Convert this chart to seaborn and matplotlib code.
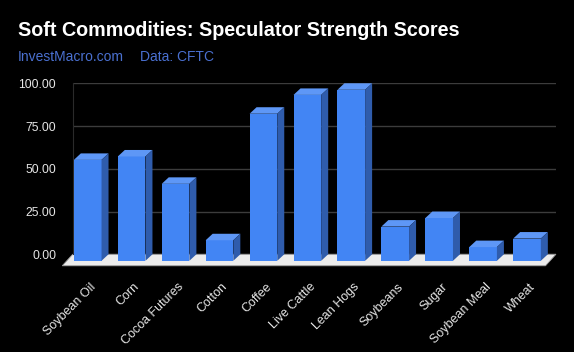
import matplotlib
matplotlib.use("Agg")
import matplotlib.pyplot as plt
import matplotlib.transforms as mtransforms
from matplotlib.patches import Polygon
import seaborn as sns

# 数据
commodities = ["Soybean Oil", "Corn", "Cocoa Futures", "Cotton", "Coffee",
               "Live Cattle", "Lean Hogs", "Soybeans", "Sugar", "Soybean Meal", "Wheat"]
scores = [59, 61, 45, 12, 86, 97, 100, 20, 25, 8, 13]
y_ticks = [0, 25, 50, 75, 100]

FRONT = "#4285f4"
TOP = "#5e97f6"
SIDE = "#2f5cac"

sns.set_style("dark")
plt.rcParams["font.family"] = ["Liberation Sans", "DejaVu Sans"]

fig = plt.figure(figsize=(5.74, 3.52), dpi=100, facecolor="black")
ax = fig.add_axes([0.1267, 0.2776, 0.8419, 0.4858])
ax.set_facecolor("black")

sns.barplot(x=commodities, y=scores, color=FRONT, saturation=1, width=0.63, ax=ax)
ax.set_xlim(-0.5, len(commodities) - 0.5)
ax.set_ylim(0, 100)

# 像素 -> 数据单位（用于 3D 偏移）
ax_w = fig.get_figwidth() * fig.dpi * 0.8419
ax_h = fig.get_figheight() * fig.dpi * 0.4858
px_x = len(commodities) / ax_w
px_y = 100 / ax_h
dx, dy = 7 * px_x, 6.5 * px_y

# 地板
fx, fy = 10.5 * px_x, 11.5 * px_y
floor = Polygon([(-0.5, 0), (len(commodities) - 0.5, 0),
                 (len(commodities) - 0.5 - fx, -fy), (-0.5 - fx, -fy)],
                closed=True, facecolor="#ececec", edgecolor="#9a9a9a", lw=0.6,
                zorder=1.5, clip_on=False)
ax.add_patch(floor)

# 3D 柱子：正面下移，补上顶面和侧面
for p, v in zip(list(ax.patches)[:len(scores)], scores):
    x0 = p.get_x()
    x1 = x0 + p.get_width()
    p.set_x(x0 - dx)
    p.set_y(-dy)
    p.set_height(v)
    p.set_zorder(3)
    p.set_edgecolor("none")
    p.set_clip_on(False)
    top = Polygon([(x0 - dx, v - dy), (x1 - dx, v - dy), (x1, v), (x0, v)],
                  closed=True, facecolor=TOP, edgecolor="none", zorder=3, clip_on=False)
    side = Polygon([(x1 - dx, -dy), (x1, 0), (x1, v), (x1 - dx, v - dy)],
                   closed=True, facecolor=SIDE, edgecolor="none", zorder=3, clip_on=False)
    ax.add_patch(top)
    ax.add_patch(side)

# 坐标轴样式
ax.set_yticks(y_ticks)
ax.set_yticklabels([f"{t:.2f}" for t in y_ticks])
ax.yaxis.grid(True, color="#3c3c3c", lw=1)
ax.xaxis.grid(False)
ax.set_axisbelow(True)
for s in ["top", "right", "bottom"]:
    ax.spines[s].set_visible(False)
ax.spines["left"].set_color("#2a2a2a")
ax.tick_params(axis="y", length=0, pad=12, labelsize=8.7, labelcolor="#e6e6e6")
ax.tick_params(axis="x", length=0, pad=19, labelsize=9, labelcolor="#e6e6e6")
shift = mtransforms.ScaledTranslation(-5 / 100, 0, fig.dpi_scale_trans)
for lbl in ax.get_xticklabels():
    lbl.set_rotation(45)
    lbl.set_ha("right")
    lbl.set_va("top")
    lbl.set_rotation_mode("anchor")
    lbl.set_transform(lbl.get_transform() + shift)
ax.set_xlabel("")
ax.set_ylabel("")

# 标题
fig.text(18 / 574, 1 - 30 / 352, "Soft Commodities: Speculator Strength Scores",
         color="white", fontsize=14.2, fontweight="bold", va="center", ha="left")
fig.text(18 / 574, 1 - 57 / 352, "InvestMacro.com", color="#4a70d0",
         fontsize=10, va="center", ha="left")
fig.text(140 / 574, 1 - 57 / 352, "Data: CFTC", color="#4a70d0",
         fontsize=10, va="center", ha="left")

fig.savefig("out.png", dpi=100, facecolor="black")
